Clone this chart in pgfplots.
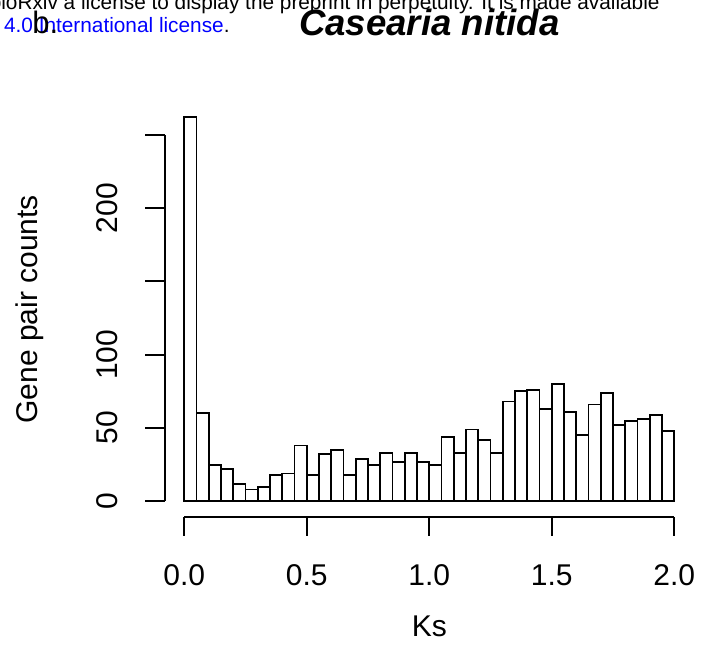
\documentclass[border=0pt]{standalone}
\usepackage{pgfplots}
\pgfplotsset{compat=1.18}
\usepackage{fontspec}
\setmainfont{Liberation Sans}
\pgfplotstableread{
x y
0.025 262
0.075 60
0.125 25
0.175 22
0.225 12
0.275 8
0.325 10
0.375 18
0.425 19
0.475 38
0.525 18
0.575 32
0.625 35
0.675 18
0.725 29
0.775 25
0.825 33
0.875 27
0.925 33
0.975 27
1.025 25
1.075 44
1.125 33
1.175 49
1.225 42
1.275 33
1.325 68
1.375 75
1.425 76
1.475 63
1.525 80
1.575 61
1.625 45
1.675 66
1.725 74
1.775 52
1.825 55
1.875 56
1.925 59
1.975 48
}\kstable
\begin{document}
\begin{tikzpicture}
\useasboundingbox (0,0) rectangle (356pt,323pt);
\node[anchor=base east, font=\fontsize{10.4}{12}\selectfont, inner sep=0pt] at (330pt,318.35pt) {bioRxiv a license to display the preprint in perpetuity. It is made available};
\node[anchor=base east, font=\fontsize{10.4}{12}\selectfont, inner sep=0pt] at (115pt,306.85pt) {\textcolor{blue}{aCC-BY-NC-ND 4.0 International license}.};
\node[anchor=base west, font=\fontsize{15.5}{18}\selectfont, inner sep=0pt] at (16pt,306.35pt) {b.};
\begin{axis}[
  at={(82.35pt,64.65pt)}, anchor=south west,
  scale only axis, width=264.6pt, height=207.5pt,
  xmin=-0.08, xmax=2.08, ymin=-10.48, ymax=272.48,
  clip=false,
  axis line style={draw=none},
  tick align=outside,
  major tick length=9.6pt,
  tick style={black, line width=0.9pt},
  xtick pos=left, ytick pos=left,
  xtick={0,0.5,1,1.5,2},
  xticklabels={0.0,0.5,1.0,1.5,2.0},
  ytick={0,50,100,150,200,250},
  yticklabels={0,50,100,,200,},
  tick label style={font=\fontsize{15}{18}\selectfont},
  xticklabel style={anchor=center},
  yticklabel style={anchor=center, rotate=90},
  xticklabel shift=19.8pt,
  yticklabel shift=19.3pt,
  label style={font=\fontsize{15}{18}\selectfont},
  xlabel={Ks},
  ylabel={Gene pair counts},
  xlabel style={at={(axis description cs:0.5,-0.2892)}, anchor=base},
  ylabel style={at={(axis description cs:-0.24,0.5)}, anchor=base},
  every axis title/.style={at={(axis description cs:0.5,1.1583)}, anchor=base, font=\fontsize{18.3}{21}\selectfont\bfseries\itshape},
  title={Casearia nitida},
]
\addplot[ybar, bar width=0.05, bar shift=0pt, fill=white, draw=black, line width=0.9pt] table[x=x, y=y] {\kstable};
\draw[black, line width=0.9pt] (axis cs:0,-10.48) -- (axis cs:2,-10.48);
\draw[black, line width=0.9pt] (axis cs:-0.08,0) -- (axis cs:-0.08,250);
\end{axis}
\end{tikzpicture}
\end{document}
